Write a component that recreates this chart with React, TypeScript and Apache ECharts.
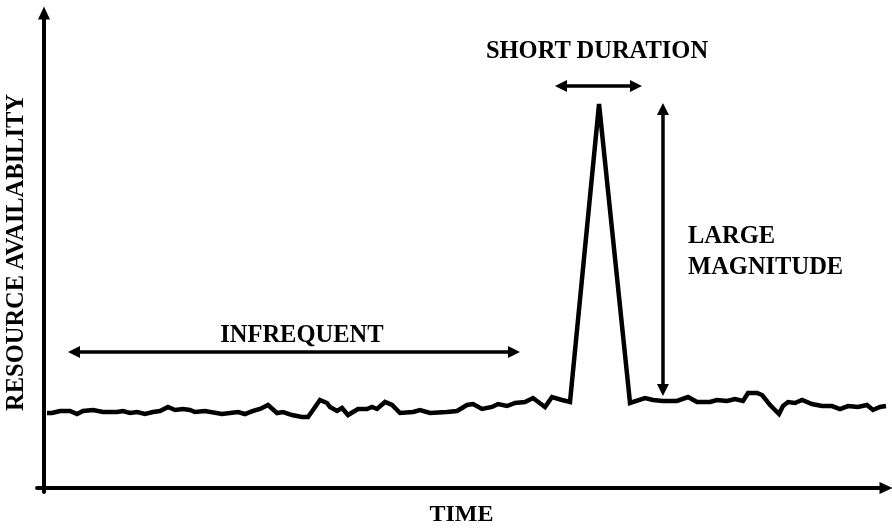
import React, { useEffect, useRef } from "react";
import * as echarts from "echarts";

// Time (0-100, arbitrary units) and resource availability (0-100, arbitrary units)
const timeValues = [
  1.18, 1.77, 2.71, 3.89, 4.71, 5.42, 6.6, 7.77, 9.42, 10.13, 10.95, 11.78, 12.72, 13.66, 14.49,
  15.43, 16.26, 17.2, 18.02, 18.61, 19.79, 21.79, 23.68, 24.5, 25.44, 26.27, 27.21, 28.27, 28.98,
  30.04, 31.21, 31.92, 32.51, 33.33, 34.16, 34.51, 35.34, 35.92, 36.63, 37.81, 38.87, 39.46, 40.05,
  40.99, 41.82, 42.76, 44.29, 45.11, 46.29, 48.29, 49.47, 50.65, 51.36, 52.42, 53.59, 54.3, 55.36,
  56.3, 57.48, 58.42, 59.84, 60.66, 61.84, 62.78, 66.2, 69.85, 71.61, 72.56, 73.73, 75.38, 76.68,
  77.74, 79.27, 80.09, 81.27, 82.21, 83.16, 83.75, 84.81, 85.4, 86.34, 87.4, 87.87, 88.46, 89.28,
  90.11, 91.28, 92.46, 93.64, 94.58, 95.53, 96.7, 97.76, 98.47, 99.29, 100.0,
];
const availabilityValues = [
  16.49, 16.49, 16.91, 16.91, 16.28, 16.91, 17.12, 16.7, 16.7, 16.91, 16.49, 16.7, 16.28, 16.7, 16.91,
  17.75, 17.12, 17.33, 17.12, 16.7, 16.91, 16.28, 16.7, 16.28, 16.91, 17.33, 18.16, 16.49, 16.7,
  16.07, 15.66, 15.66, 17.12, 19.21, 18.58, 17.75, 16.91, 17.54, 16.07, 17.33, 17.33, 17.75, 17.33,
  18.79, 18.16, 16.49, 16.7, 17.12, 16.49, 16.7, 16.91, 18.16, 18.37, 17.33, 17.75, 18.37, 17.95,
  18.58, 18.79, 19.62, 17.75, 19.83, 19.21, 18.79, 81.0, 18.58, 19.62, 19.21, 19.0, 19.0, 19.83,
  18.79, 18.79, 19.21, 19.0, 19.42, 19.0, 20.67, 20.67, 20.25, 18.16, 16.28, 17.95, 18.79, 18.58,
  19.21, 18.37, 17.95, 17.95, 17.33, 17.95, 17.75, 18.16, 17.12, 17.75, 17.95,
];

// Annotation arrows (data units)
const infrequentSpan = [4.36, 56.18];
const infrequentLevel = 29.23;
const durationSpan = [61.72, 70.55];
const durationLevel = 84.76;
const magnitudeSpan = [21.29, 79.96];
const magnitudeTime = 73.73;

// Annotation texts and their anchor points (data units)
const annotationTexts = ["INFREQUENT", "SHORT DURATION", "LARGE\nMAGNITUDE"];
const annotationCoords = [
  [31.2, 33.19],
  [65.96, 92.28],
  [76.68, 50.52],
];

const xAxisName = "TIME";
const yAxisName = "RESOURCE AVAILABILITY";

export default function App() {
  const ref = useRef<HTMLDivElement>(null);
  useEffect(() => {
    if (!ref.current) return;
    const chart = echarts.init(ref.current, undefined, { renderer: "svg" });
    const font = {
      fontFamily: "'Liberation Serif', 'Times New Roman', serif",
      fontWeight: "bold" as const,
      fontSize: 24.5,
      color: "#000",
    };
    const axisCommon = {
      type: "value" as const,
      min: 0,
      max: 100,
      axisLine: {
        show: true,
        onZero: false,
        symbol: ["none", "triangle"],
        symbolSize: [12, 13],
        lineStyle: { color: "#000", width: 4 },
      },
      axisTick: { show: false },
      axisLabel: { show: false },
      splitLine: { show: false },
      nameLocation: "middle" as const,
    };
    const data = timeValues.map((t, i) => [t, availabilityValues[i]]);
    chart.setOption({
      animation: false,
      grid: {
        left: 37,
        right: 6,
        top: 13,
        bottom: 36,
        containLabel: false,
        outerBoundsMode: "none",
      },
      xAxis: {
        ...axisCommon,
        offset: -4,
        name: xAxisName,
        nameGap: 14,
        nameTextStyle: { ...font, fontSize: 24, lineHeight: 22 },
      },
      yAxis: {
        ...axisCommon,
        offset: -7,
        name: yAxisName,
        nameGap: 17,
        nameRotate: 90,
        nameTextStyle: font,
      },
      series: [
        {
          type: "line",
          data,
          symbol: "none",
          silent: true,
          lineStyle: { color: "#000", width: 4.5, join: "miter" },
          markLine: {
            silent: true,
            symbol: ["triangle", "triangle"],
            symbolSize: [12, 12],
            lineStyle: { color: "#000", width: 3.5, type: "solid" },
            label: { show: false },
            emphasis: { disabled: true },
            data: [
              [
                { coord: [infrequentSpan[0], infrequentLevel] },
                { coord: [infrequentSpan[1], infrequentLevel] },
              ],
              [
                { coord: [durationSpan[0], durationLevel] },
                { coord: [durationSpan[1], durationLevel] },
              ],
              [
                { coord: [magnitudeTime, magnitudeSpan[0]] },
                { coord: [magnitudeTime, magnitudeSpan[1]] },
              ],
            ],
          },
          markPoint: {
            silent: true,
            symbol: "circle",
            symbolSize: 1,
            itemStyle: { color: "rgba(0,0,0,0)" },
            label: {
              show: true,
              position: "inside",
              ...font,
              formatter: (p: any) => p.name,
            },
            data: annotationTexts.map((t, i) => ({
              name: t,
              coord: annotationCoords[i],
              label: {
                align: i === 2 ? "left" : "center",
                verticalAlign: "middle",
                lineHeight: 31,
              },
            })),
          },
        },
      ],
    });
    return () => chart.dispose();
  }, []);
  return (
    <div
      ref={ref}
      style={{ position: "fixed", left: 0, top: 0, width: 892, height: 528 }}
    />
  );
}
